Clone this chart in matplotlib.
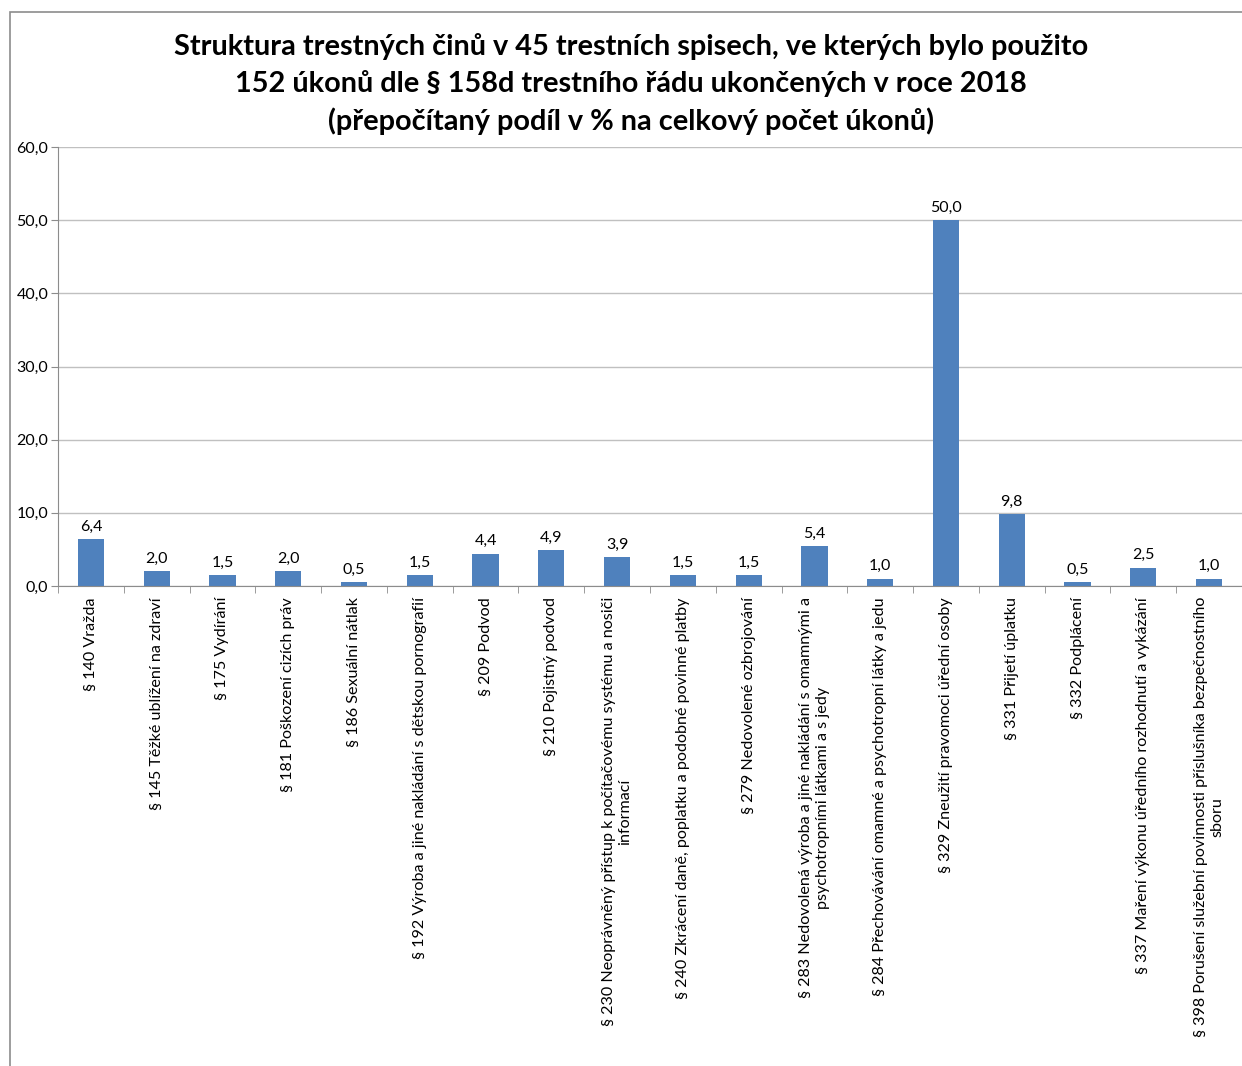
import matplotlib
matplotlib.use("Agg")
import matplotlib.pyplot as plt
import numpy as np
from matplotlib.patches import Rectangle
from matplotlib.ticker import FixedLocator, FuncFormatter

plt.rcParams['font.family'] = ['Lato', 'DejaVu Sans']

categories = [
    "§ 140 Vražda",
    "§ 145 Těžké ublížení na zdraví",
    "§ 175 Vydírání",
    "§ 181 Poškození cizích práv",
    "§ 186 Sexuální nátlak",
    "§ 192 Výroba a jiné nakládání s dětskou pornografií",
    "§ 209 Podvod",
    "§ 210 Pojistný podvod",
    "§ 230 Neoprávněný přístup k počítačovému systému a nosiči\ninformací",
    "§ 240 Zkrácení daně, poplatku a podobné povinné platby",
    "§ 279 Nedovolené ozbrojování",
    "§ 283 Nedovolená výroba a jiné nakládání s omamnými a\npsychotropními látkami a s jedy",
    "§ 284 Přechovávání omamné a psychotropní látky a jedu",
    "§ 329 Zneužití pravomoci úřední osoby",
    "§ 331 Přijetí úplatku",
    "§ 332 Podplácení",
    "§ 337 Maření výkonu úředního rozhodnutí a vykázání",
    "§ 398 Porušení služební povinnosti příslušníka bezpečnostního\nsboru",
]
values = [6.4, 2.0, 1.5, 2.0, 0.5, 1.5, 4.4, 4.9, 3.9, 1.5, 1.5, 5.4, 1.0, 50.0, 9.8, 0.5, 2.5, 1.0]
y_ticks = [0, 10, 20, 30, 40, 50, 60]

title = ("Struktura trestných činů v 45 trestních spisech, ve kterých bylo použito\n"
         "152 úkonů dle § 158d trestního řádu ukončených v roce 2018\n"
         "(přepočítaný podíl v % na celkový počet úkonů)")

fig = plt.figure(figsize=(12.42, 10.66), dpi=100)
fig.patches.append(Rectangle((10 / 1242, -0.01), 1.0, 1 - 12 / 1066 + 0.01,
                             transform=fig.transFigure, fill=False,
                             edgecolor='#8c8c8c', linewidth=1.2))

ax = fig.add_axes([58 / 1242, 1 - 586 / 1066, 1 - 58 / 1242, (586 - 147) / 1066])
x = np.arange(len(categories))
bars = ax.bar(x, values, width=0.4, color='#4f81bd')

ax.set_ylim(0, 60)
ax.set_xlim(-0.5, len(categories) - 0.5)
ax.set_yticks(y_ticks)
ax.yaxis.set_major_formatter(FuncFormatter(lambda v, p: f"{v:.1f}".replace('.', ',')))
ax.grid(axis='y', color='#c0c0c0', linewidth=1)
ax.set_axisbelow(True)

ax.set_xticks(x)
ax.set_xticklabels(categories, rotation=90, ha='center', va='top', fontsize=11.6,
                   multialignment='center')
ax.tick_params(axis='x', length=0, pad=8)
ax.xaxis.set_minor_locator(FixedLocator(np.arange(-0.5, len(categories), 1)))
ax.tick_params(axis='x', which='minor', length=5, color='#8c8c8c')
ax.tick_params(axis='y', length=5, color='#8c8c8c', labelsize=11.5, pad=2)

for s in ['top', 'right']:
    ax.spines[s].set_visible(False)
ax.spines['left'].set_color('#8c8c8c')
ax.spines['bottom'].set_color('#8c8c8c')

for xi, v in zip(x, values):
    ax.annotate(f"{v:.1f}".replace('.', ','), (xi, v), xytext=(0, 4),
                textcoords='offset points', ha='center', va='bottom', fontsize=11.5)

fig.text(631 / 1242, 1 - 84 / 1066, title, ha='center', va='center', fontsize=20.8,
         fontweight='bold', linespacing=1.45)

fig.savefig("out.png", dpi=100)
